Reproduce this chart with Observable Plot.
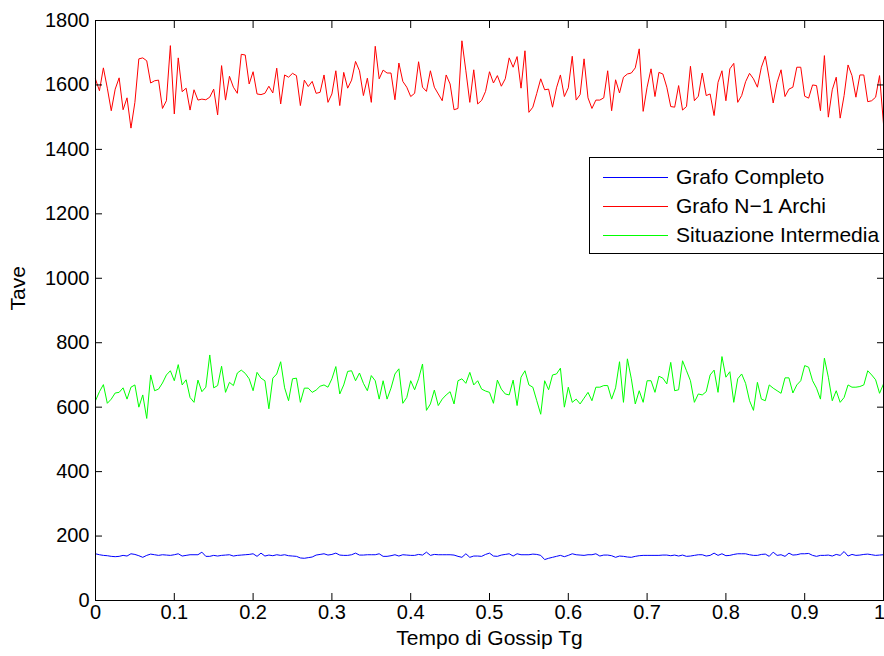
<!DOCTYPE html>
<html>
<head>
<meta charset="utf-8">
<script src="https://cdn.jsdelivr.net/npm/d3@7"></script>
<script src="https://cdn.jsdelivr.net/npm/@observablehq/plot@0.6"></script>
<style>
  body { margin: 0; background: #fff; }
  #chart { position: relative; width: 884px; height: 656px; font-family: "Liberation Sans", Arial, Helvetica, sans-serif; }
  #chart svg { display: block; }
  .legend { position: absolute; left: 589px; top: 157px; width: 293px; height: 95px; border: 1px solid #000; background: #fff; font-size: 21px; color: #000; }
  .legend .row { position: absolute; left: 0; height: 0; }
  .legend .swatch { position: absolute; left: 13px; width: 65px; top: 0; height: 1px; }
  .legend .name { position: absolute; left: 86px; top: -12px; white-space: nowrap; line-height: 24px; }
</style>
</head>
<body>
<div id="chart"></div>
<script>
// Sampling of the gossip time Tg: 201 samples from 0 to 1
const tgStep = 0.005;

// Tave for the complete graph
const grafoCompleto = [
  145,142,140,139,137,136,137,140,138,145,143,139,134,140,144,142,140,142,141,140,
  142,145,138,140,142,142,142,150,137,137,140,138,140,141,142,138,140,141,142,143,
  145,137,147,138,141,139,142,140,142,139,138,137,132,131,133,135,141,143,145,141,
  143,147,141,140,140,142,147,141,141,142,142,142,145,137,137,139,142,138,142,141,
  140,140,143,141,150,140,143,142,142,142,142,141,137,134,145,134,138,138,137,143,
  147,138,137,141,143,145,138,145,142,142,142,144,143,140,127,131,134,137,140,136,
  140,145,142,141,140,142,142,145,138,141,141,139,134,138,137,135,134,137,139,140,
  140,140,140,140,141,141,139,141,138,141,137,138,140,142,142,138,140,147,140,145,
  139,140,143,145,145,145,142,140,140,143,144,137,150,140,142,137,147,141,142,145,
  145,146,140,137,140,140,141,138,143,140,152,138,143,140,141,143,144,142,140,141,
  142
];

// Tave for the graph with N-1 edges
const grafoN1Archi = [
  1618,1582,1653,1590,1520,1587,1622,1523,1560,1466,1546,1681,1684,1675,1606,1613,1615,1527,1551,1722,
  1510,1684,1579,1590,1522,1585,1553,1556,1554,1562,1587,1507,1660,1553,1627,1593,1574,1695,1693,1603,
  1641,1572,1570,1574,1596,1575,1652,1541,1631,1624,1636,1629,1536,1615,1595,1611,1574,1577,1631,1546,
  1572,1644,1536,1639,1590,1615,1673,1644,1567,1621,1546,1720,1619,1646,1637,1637,1554,1668,1611,1593,
  1564,1574,1672,1593,1580,1644,1593,1572,1551,1631,1603,1523,1527,1737,1644,1546,1647,1541,1552,1580,
  1641,1606,1629,1596,1619,1684,1655,1688,1590,1706,1515,1531,1574,1619,1585,1587,1531,1591,1631,1564,
  1591,1689,1553,1570,1681,1560,1527,1553,1553,1560,1644,1520,1616,1575,1624,1634,1637,1653,1712,1518,
  1593,1650,1564,1639,1634,1593,1533,1531,1598,1522,1533,1658,1551,1565,1637,1567,1572,1505,1608,1644,
  1551,1650,1667,1546,1567,1610,1636,1619,1593,1655,1689,1619,1544,1608,1647,1564,1587,1593,1655,1655,
  1565,1559,1600,1598,1520,1691,1500,1585,1624,1497,1567,1662,1629,1562,1631,1631,1548,1551,1562,1629,
  1479
];

// Tave for the intermediate situation
const situazioneIntermedia = [
  620,648,670,612,625,644,646,660,625,662,669,600,638,565,700,651,656,675,700,713,
  682,732,669,685,630,615,684,648,662,762,660,667,727,646,677,667,706,715,705,688,
  651,708,690,682,595,690,703,741,660,620,688,690,615,659,659,646,653,665,669,662,
  688,726,641,669,711,713,682,706,674,651,698,682,625,682,625,659,703,719,612,630,
  682,654,688,734,590,610,653,605,625,638,648,610,682,688,674,708,669,682,656,650,
  646,612,684,656,641,638,684,605,693,713,669,662,620,578,682,654,700,703,721,600,
  662,615,625,610,628,646,620,662,662,667,667,625,660,741,615,750,688,610,651,615,
  682,682,646,696,690,672,739,651,654,744,713,682,615,641,638,648,700,715,646,757,
  693,710,615,688,703,674,620,590,677,625,620,669,659,651,643,691,691,644,669,682,
  729,724,682,659,625,752,693,620,651,615,630,669,662,662,664,669,713,700,685,643,
  672
];

const seriesNames = ["Grafo Completo", "Grafo N\u22121 Archi", "Situazione Intermedia"];
const seriesColors = ["#0000ff", "#ff0000", "#00ff00"];
const seriesValues = [grafoCompleto, grafoN1Archi, situazioneIntermedia];

const xTicks = [0, 0.1, 0.2, 0.3, 0.4, 0.5, 0.6, 0.7, 0.8, 0.9, 1];
const yTicks = [0, 200, 400, 600, 800, 1000, 1200, 1400, 1600, 1800];
const xLabel = "Tempo di Gossip Tg";
const yLabel = "Tave";

// Long-format table: one row per sample per series
const rows = seriesValues.flatMap((values, s) =>
  values.map((v, i) => ({tg: +(i * tgStep).toFixed(3), tave: v, series: seriesNames[s]}))
);

const fmtX = d => String(+d.toFixed(1));
const lastX = xTicks[xTicks.length - 1];

const svg = Plot.plot({
  width: 884,
  height: 656,
  marginLeft: 95,
  marginRight: 1,
  marginTop: 20,
  marginBottom: 56,
  style: {fontFamily: "'Liberation Sans', Arial, Helvetica, sans-serif", fontSize: "20px", color: "#000", background: "#fff", overflow: "visible"},
  x: {domain: [0, 1]},
  y: {domain: [0, 1800]},
  color: {domain: seriesNames, range: seriesColors},
  marks: [
    Plot.lineY(rows, {x: "tg", y: "tave", z: "series", stroke: "series", strokeWidth: 1}),
    Plot.frame({stroke: "#000", strokeWidth: 1}),
    // bottom and top ticks point inward
    Plot.axisX(xTicks.slice(0, -1), {anchor: "bottom", tickSize: -7, tickPadding: 11, tickFormat: fmtX, label: null}),
    Plot.axisX(xTicks, {anchor: "top", tickSize: -7, tickFormat: () => "", label: null}),
    // the last bottom label is nudged left to stay on the page (its tick sits on the frame)
    Plot.axisX([lastX], {anchor: "bottom", tickSize: 0, tickPadding: 4, tickFormat: fmtX, label: null, dx: -4}),
    Plot.axisY(yTicks, {anchor: "left", tickSize: -7, tickPadding: 13, tickFormat: d => String(d), label: null}),
    Plot.axisY(yTicks, {anchor: "right", tickSize: -7, tickFormat: () => "", label: null}),
    // axis titles
    Plot.text([xLabel], {text: d => d, frameAnchor: "bottom", dy: 44, fontSize: 21}),
    Plot.text([yLabel], {text: d => d, frameAnchor: "left", dx: -77, rotate: -90, fontSize: 21})
  ]
});

const chart = document.getElementById("chart");
chart.appendChild(svg);

// Legend box in the upper right of the axes
const legend = document.createElement("div");
legend.className = "legend";
seriesNames.forEach((name, s) => {
  const row = document.createElement("div");
  row.className = "row";
  row.style.top = (19 + 29 * s) + "px";
  const sw = document.createElement("div");
  sw.className = "swatch";
  sw.style.background = seriesColors[s];
  const tx = document.createElement("span");
  tx.className = "name";
  tx.textContent = name;
  row.appendChild(sw);
  row.appendChild(tx);
  legend.appendChild(row);
});
chart.appendChild(legend);
</script>
</body>
</html>
